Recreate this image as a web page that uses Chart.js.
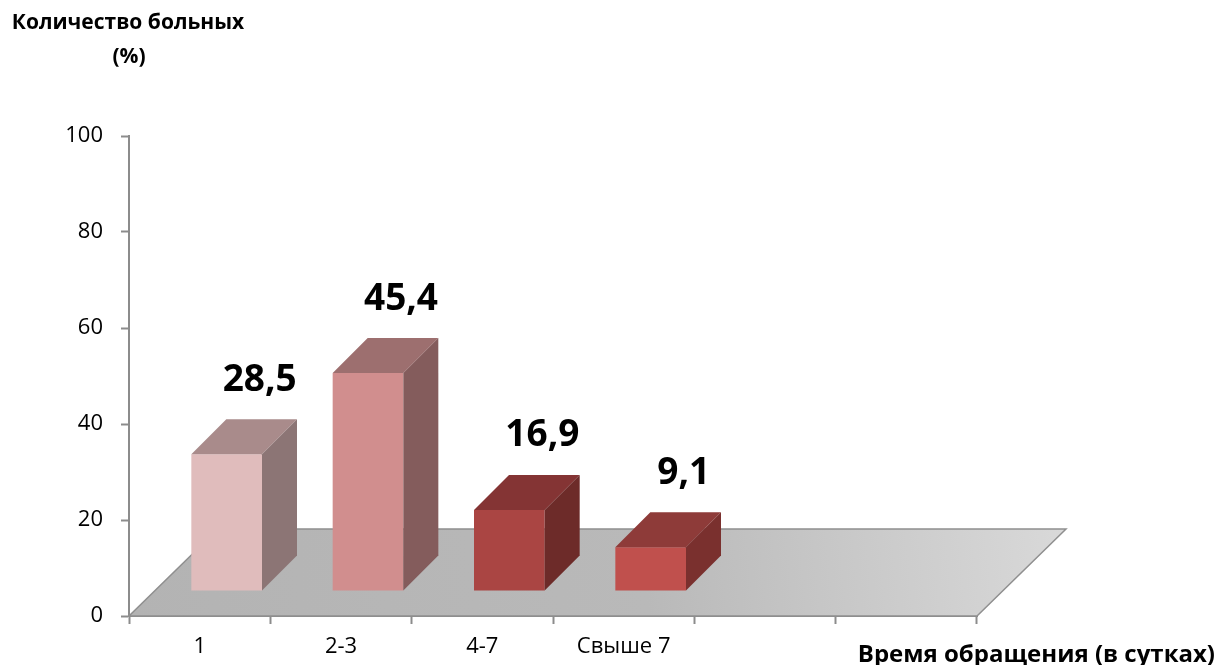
<!DOCTYPE html>
<html>
<head>
<meta charset="utf-8">
<script src="https://cdn.jsdelivr.net/npm/chart.js@4/dist/chart.umd.min.js"></script>
<style>
  html, body { margin: 0; padding: 0; background: #ffffff; }
  #wrap { width: 1219px; height: 665px; position: relative; }
</style>
</head>
<body>
<div id="wrap"><canvas id="c" width="1219" height="665"></canvas></div>
<script>
// ---- data ----
const categories = ['1', '2-3', '4-7', 'Свыше 7', '', ''];
const values = [28.5, 45.4, 16.9, 9.1, null, null];
const valueLabels = ['28,5', '45,4', '16,9', '9,1'];
const yTicks = [0, 20, 40, 60, 80, 100];
const yTitleLines = ['Количество больных', '(%)'];
const xTitle = 'Время обращения (в сутках)';

// ---- styles ----
const frontColors = ['#e0bcbc', '#d18e8e', '#aa4543', '#c0504d'];
const topColors   = ['#a98b8b', '#9d6f6f', '#843434', '#8e3b39'];
const sideColors  = ['#8c7575', '#845c5c', '#6d2b29', '#7a302e'];
const FONT = '"Open Sans", "Noto Sans", sans-serif';
const AXIS = '#8c8c8c';

const shift = { x: 27, y: -25 };     // bar placement inside the floor depth
const depth = { x: 35, y: -35 };     // bar depth
const floorDepth = { x: 89, y: -87 };// floor depth

const threeD = {
  id: 'threeD',
  beforeDatasetsDraw(chart) {
    const ctx = chart.ctx;
    const xs = chart.scales.x, ys = chart.scales.y;
    const y0 = ys.getPixelForValue(0);
    const x0 = xs.left, x1 = xs.right;
    ctx.save();
    const g = ctx.createLinearGradient(x0, y0, x1 + floorDepth.x, y0 + floorDepth.y);
    g.addColorStop(0, '#b3b3b3');
    g.addColorStop(0.55, '#b9b9b9');
    g.addColorStop(1, '#d9d9d9');
    ctx.beginPath();
    ctx.moveTo(x0, y0);
    ctx.lineTo(x1, y0);
    ctx.lineTo(x1 + floorDepth.x, y0 + floorDepth.y);
    ctx.lineTo(x0 + floorDepth.x, y0 + floorDepth.y);
    ctx.closePath();
    ctx.fillStyle = g;
    ctx.fill();
    ctx.lineWidth = 1.5;
    ctx.strokeStyle = '#8f8f8f';
    ctx.stroke();
    ctx.restore();
  },
  beforeDatasetDraw(chart) {
    chart.ctx.save();
    chart.ctx.translate(shift.x, shift.y);
  },
  afterDatasetDraw(chart, args) {
    const ctx = chart.ctx;
    const meta = args.meta;
    meta.data.forEach((bar, i) => {
      if (values[i] == null) return;
      const p = bar.getProps(['x', 'y', 'base', 'width'], true);
      const l = p.x - p.width / 2, r = p.x + p.width / 2;
      const t = p.y, b = p.base;
      // top face
      ctx.beginPath();
      ctx.moveTo(l, t);
      ctx.lineTo(r, t);
      ctx.lineTo(r + depth.x, t + depth.y);
      ctx.lineTo(l + depth.x, t + depth.y);
      ctx.closePath();
      ctx.fillStyle = topColors[i];
      ctx.fill();
      // side face
      ctx.beginPath();
      ctx.moveTo(r, t);
      ctx.lineTo(r + depth.x, t + depth.y);
      ctx.lineTo(r + depth.x, b + depth.y);
      ctx.lineTo(r, b);
      ctx.closePath();
      ctx.fillStyle = sideColors[i];
      ctx.fill();
    });
    ctx.restore();
  },
  afterDatasetsDraw(chart) {
    const ctx = chart.ctx;
    const meta = chart.getDatasetMeta(0);
    ctx.save();
    ctx.fillStyle = '#000';
    ctx.textAlign = 'center';
    ctx.textBaseline = 'middle';
    ctx.font = 'bold 37px ' + FONT;
    meta.data.forEach((bar, i) => {
      if (values[i] == null) return;
      const p = bar.getProps(['x', 'y'], true);
      ctx.fillText(valueLabels[i], p.x + shift.x + depth.x - 2, p.y + shift.y + depth.y - 39);
    });
    ctx.restore();
  },
  afterDraw(chart) {
    const ctx = chart.ctx;
    ctx.save();
    ctx.fillStyle = '#000';
    ctx.textBaseline = 'middle';
    ctx.font = 'bold 21px ' + FONT;
    ctx.textAlign = 'center';
    ctx.fillText(yTitleLines[0], 128, 23);
    ctx.fillText(yTitleLines[1], 129, 57);
    ctx.font = 'bold 24px ' + FONT;
    ctx.textAlign = 'right';
    ctx.fillText(xTitle, 1215, 655);
    ctx.restore();
  }
};

new Chart(document.getElementById('c'), {
  type: 'bar',
  data: {
    labels: categories,
    datasets: [{
      data: values,
      backgroundColor: frontColors,
      borderWidth: 0,
      barPercentage: 0.5,
      categoryPercentage: 1.0,
      clip: false
    }]
  },
  options: {
    responsive: false,
    animation: false,
    devicePixelRatio: 1,
    layout: { padding: { left: 0, top: 136, right: 242, bottom: 0 } },
    plugins: { legend: { display: false }, title: { display: false }, tooltip: { enabled: false } },
    scales: {
      x: {
        grid: { display: true, drawOnChartArea: false, drawTicks: true, tickLength: 8, color: AXIS, tickWidth: 2, offset: true },
        border: { display: true, color: AXIS, width: 2 },
        ticks: { color: '#000', font: { family: FONT, size: 22 }, padding: 10, maxRotation: 0, autoSkip: false },
        afterFit(s) { s.height = 49; }
      },
      y: {
        min: 0, max: 100,
        afterBuildTicks(s) { s.ticks = yTicks.map(v => ({ value: v })); },
        grid: { display: true, drawOnChartArea: false, drawTicks: true, tickLength: 8, color: AXIS, tickWidth: 2 },
        border: { display: true, color: AXIS, width: 2 },
        ticks: { color: '#000', font: { family: FONT, size: 22 }, padding: 18 },
        afterFit(s) { s.width = 129; }
      }
    }
  },
  plugins: [threeD]
});
</script>
</body>
</html>
